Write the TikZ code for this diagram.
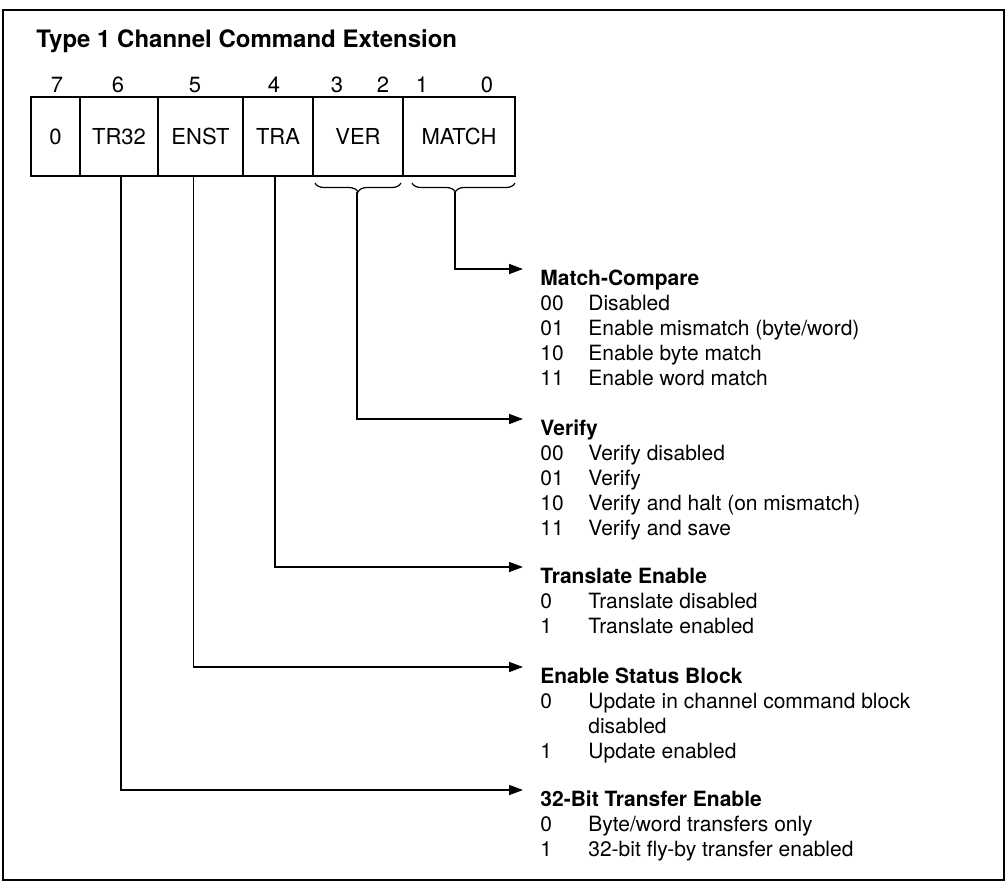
\documentclass[tikz,border=0pt]{standalone}
\usepackage{fontspec}
\setmainfont{TeX Gyre Heros}
\usepackage{tikz}
\usetikzlibrary{arrows.meta}
\usetikzlibrary{decorations.pathreplacing}
\usetikzlibrary{positioning}
\tikzstyle{regcell} = [draw=black, line width=1pt, rectangle, minimum height=39.5pt,
inner sep=0pt, outer sep=0pt, font=\fontsize{11}{13}\selectfont]
\tikzstyle{bitnum} = [inner sep=0pt, font=\fontsize{11}{13}\selectfont]
\tikzstyle{fieldinfo} = [anchor=base west, inner sep=0pt, font=\fontsize{10.5}{12.5}\selectfont]
\tikzstyle{pointer} = [line width=0.8pt, -{Triangle[length=7pt,width=5pt]}, shorten >=8.5pt]
\tikzstyle{fieldbrace} = [line width=0.6pt, decorate, decoration={brace, mirror, amplitude=4.5pt}]

\begin{document}
\begin{tikzpicture}[x=0.5pt, y=0.5pt]
        \useasboundingbox (0,0) rectangle (1006,-885);
        \draw[line width=1.2pt] (3,-10) rectangle (1004,-880);
        \node[anchor=base west, inner sep=0pt, font=\bfseries\fontsize{12}{14}\selectfont] (title)
            at (36,-47) {Type 1 Channel Command Extension};
        % register cells
        \node[regcell, minimum width=24.5pt, anchor=north west] (zero) at (31,-97) {0};
        \node[regcell, minimum width=39pt, right=0pt of zero] (tr32) {TR32};
        \node[regcell, minimum width=42.5pt, right=0pt of tr32] (enst) {ENST};
        \node[regcell, minimum width=35pt, right=0pt of enst] (tra) {TRA};
        \node[regcell, minimum width=45pt, right=0pt of tra] (ver) {VER};
        \node[regcell, minimum width=56pt, right=0pt of ver] (match) {MATCH};
        % bit numbers
        \node[bitnum] (bit7) at (57,-85) {7};
        \node[bitnum] (bit6) at (118,-85) {6};
        \node[bitnum] (bit5) at (195,-85) {5};
        \node[bitnum] (bit4) at (274,-85) {4};
        \node[bitnum] (bit3) at (337,-85) {3};
        \node[bitnum] (bit2) at (383,-85) {2};
        \node[bitnum] (bit1) at (422,-85) {1};
        \node[bitnum] (bit0) at (487,-85) {0};
        % braces under the two-bit fields
        \draw[fieldbrace] ([xshift=1pt,yshift=-3.5pt]ver.south west) -- ([xshift=-1pt,yshift=-3.5pt]ver.south east);
        \draw[fieldbrace, decoration={aspect=0.42}] ([xshift=4.5pt,yshift=-3.5pt]match.south west) -- ([yshift=-3.5pt]match.south east);
        \coordinate (vertip) at (357,-192);
        \coordinate (matchtip) at (455,-192);
        % field descriptions
        \node[fieldinfo] (matchinfo) at (540,-285) {\begin{tabular}[t]{@{}p{24pt}@{}l@{}}
            \multicolumn{2}{@{}l@{}}{\bfseries Match-Compare}\\
            00 & Disabled\\
            01 & Enable mismatch (byte/word)\\
            10 & Enable byte match\\
            11 & Enable word match
        \end{tabular}};
        \node[fieldinfo] (verinfo) at (540,-435) {\begin{tabular}[t]{@{}p{24pt}@{}l@{}}
            \multicolumn{2}{@{}l@{}}{\bfseries Verify}\\
            00 & Verify disabled\\
            01 & Verify\\
            10 & Verify and halt (on mismatch)\\
            11 & Verify and save
        \end{tabular}};
        \node[fieldinfo] (trainfo) at (540,-583) {\begin{tabular}[t]{@{}p{24pt}@{}l@{}}
            \multicolumn{2}{@{}l@{}}{\bfseries Translate Enable}\\
            0 & Translate disabled\\
            1 & Translate enabled
        \end{tabular}};
        \node[fieldinfo] (enstinfo) at (540,-683) {\begin{tabular}[t]{@{}p{24pt}@{}l@{}}
            \multicolumn{2}{@{}l@{}}{\bfseries Enable Status Block}\\
            0 & Update in channel command block\\
              & disabled\\
            1 & Update enabled
        \end{tabular}};
        \node[fieldinfo] (trinfo) at (540,-806) {\begin{tabular}[t]{@{}p{24pt}@{}l@{}}
            \multicolumn{2}{@{}l@{}}{\bfseries 32-Bit Transfer Enable}\\
            0 & Byte/word transfers only\\
            1 & 32-bit fly-by transfer enabled
        \end{tabular}};
        % pointers
        \draw[pointer] (matchtip) |- ([yshift=8pt]matchinfo.base west);
        \draw[pointer] (vertip) |- ([yshift=8pt]verinfo.base west);
        \draw[pointer] ([xshift=-1.5pt]tra.south) |- ([yshift=8pt]trainfo.base west);
        \draw[pointer] ([xshift=-3.5pt]enst.south) |- ([yshift=8pt]enstinfo.base west);
        \draw[pointer] ([xshift=1pt]tr32.south) |- ([yshift=8pt]trinfo.base west);
    \end{tikzpicture}
\end{document}
